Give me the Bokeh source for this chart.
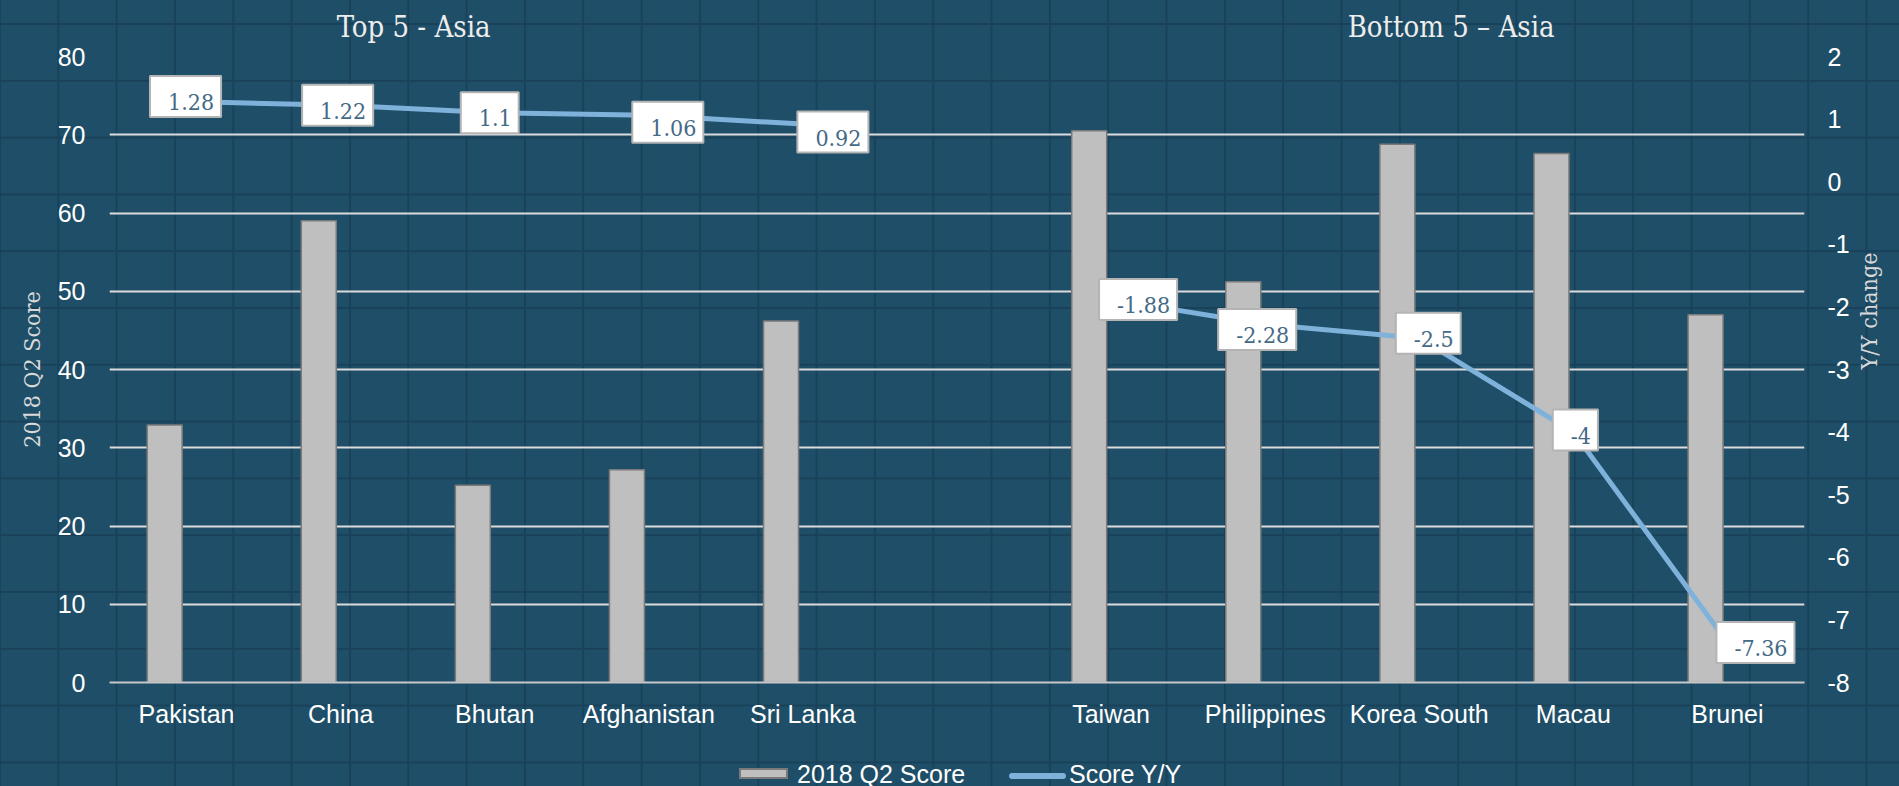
import math
from bokeh.plotting import figure
from bokeh.layouts import column
from bokeh.models import (FactorRange, Range1d, LinearAxis, SingleIntervalTicker,
                          ColumnDataSource, Div, PrintfTickFormatter)
from bokeh.transform import dodge
from bokeh.core.properties import value
from bokeh.embed import file_html
from bokeh.resources import INLINE

# ---------------- data ----------------
categories = ["Pakistan", "China", "Bhutan", "Afghanistan", "Sri Lanka", " ",
              "Taiwan", "Philippines", "Korea South", "Macau", "Brunei"]
top5 = ["Pakistan", "China", "Bhutan", "Afghanistan", "Sri Lanka"]
bottom5 = ["Taiwan", "Philippines", "Korea South", "Macau", "Brunei"]
top5_score = [32.9, 59.0, 25.2, 27.2, 46.2]
bottom5_score = [70.5, 51.2, 68.8, 67.6, 47.0]
top5_yy = [1.28, 1.22, 1.1, 1.06, 0.92]
bottom5_yy = [-1.88, -2.28, -2.5, -4, -7.36]
left_ticks_interval = 10
right_ticks_interval = 1
titles = ["Top 5 - Asia", "Bottom 5 \u2013 Asia"]
legend_labels = ["2018 Q2 Score", "Score Y/Y"]

# ---------------- layout / styles ----------------
W, H = 1899, 786
HEAD_H = 40                       # strip holding the two section titles
FOOT_H = 30                       # strip holding the legend
FRAME_L, FRAME_R, FRAME_T, FRAME_B = 109, 95, 56, 104
FRAME_W = W - FRAME_L - FRAME_R
FRAME_H = H - FRAME_T - FRAME_B
title_pos = [1.977, 8.71]          # in category-slot units along the x axis
label_dx = [-1, -3, -5, 19, 30, 27, -8, 9, 2, 28]   # data-label nudges (px)
label_dy = [-5, 0, 0, 7, 8, 0, 5, -5, -2, 0]

BG = "#1F4F68"
PAPER = "#19425A"
BAR_FILL = "#BFBFBF"
BAR_LINE = "#7A7A7A"
LINE_C = "#7FB2DA"
LABEL_TXT = "#456A86"
SANS = "Liberation Sans"
SERIF = "DejaVu Serif Condensed"

p = figure(frame_width=FRAME_W, frame_height=FRAME_H,
           x_range=FactorRange(*categories, range_padding=0, factor_padding=0),
           y_range=Range1d(0, 80),
           output_backend="svg", toolbar_location=None,
           min_border_left=FRAME_L, min_border_right=FRAME_R,
           min_border_top=FRAME_T - HEAD_H, min_border_bottom=FRAME_B - FOOT_H,
           margin=0)
p.extra_y_ranges = {"yy": Range1d(-8, 2)}
p.background_fill_alpha = 0
p.border_fill_alpha = 0
p.outline_line_color = None

# grid
p.xgrid.grid_line_color = None
p.ygrid.grid_line_color = "#DCDCDC"
p.ygrid.grid_line_width = 2
p.ygrid.ticker = SingleIntervalTicker(interval=left_ticks_interval, num_minor_ticks=0)

# left axis
la = p.yaxis[0]
la.ticker = SingleIntervalTicker(interval=left_ticks_interval, num_minor_ticks=0)
la.formatter = PrintfTickFormatter(format="%d")
la.axis_line_color = None
la.major_tick_line_color = None
la.minor_tick_line_color = None
la.major_tick_out = 0
la.major_label_standoff = 24
la.major_label_text_font = SANS
la.major_label_text_font_size = "25px"
la.major_label_text_color = "#FFFFFF"
la.axis_label = "2018 Q2 Score"
la.axis_label_text_font = SERIF
la.axis_label_text_font_style = "normal"
la.axis_label_text_font_size = "23px"
la.axis_label_text_color = "#D9D9D9"
la.axis_label_standoff = 10

# right axis
ra = LinearAxis(y_range_name="yy",
                ticker=SingleIntervalTicker(interval=right_ticks_interval, num_minor_ticks=0),
                formatter=PrintfTickFormatter(format="%d"))
ra.axis_line_color = None
ra.major_tick_line_color = None
ra.minor_tick_line_color = None
ra.major_tick_out = 0
ra.major_label_standoff = 23
ra.major_label_text_font = SANS
ra.major_label_text_font_size = "25px"
ra.major_label_text_color = "#FFFFFF"
ra.axis_label = "Y/Y change"
ra.axis_label_text_font = SERIF
ra.axis_label_text_font_style = "normal"
ra.axis_label_text_font_size = "23px"
ra.axis_label_text_color = "#D9D9D9"
ra.axis_label_standoff = 16
try:
    ra.axis_label_orientation = math.pi / 2
except Exception:
    pass
p.add_layout(ra, "right")

# bottom axis
xa = p.xaxis[0]
xa.axis_line_color = "#C8C8C8"
xa.axis_line_width = 2
xa.major_tick_line_color = None
xa.minor_tick_line_color = None
xa.major_tick_out = 0
xa.major_label_standoff = 17
xa.major_label_text_font = SANS
xa.major_label_text_font_size = "25px"
xa.major_label_text_line_height = 1.0
xa.major_label_text_color = "#FFFFFF"

# bars
bar_src = ColumnDataSource(dict(cat=top5 + bottom5, score=top5_score + bottom5_score))
bars = p.vbar(x=dodge("cat", -0.142, range=p.x_range), top="score", width=0.227,
              source=bar_src, fill_color=BAR_FILL, line_color=BAR_LINE, line_width=1.5)

# lines (broken between the two groups)
l1 = p.line(x=top5, y=top5_yy, y_range_name="yy", line_color=LINE_C, line_width=5)
l2 = p.line(x=bottom5, y=bottom5_yy, y_range_name="yy", line_color=LINE_C, line_width=5)

# data labels
yy_all = top5_yy + bottom5_yy
lab_src = ColumnDataSource(dict(cat=top5 + bottom5, v=yy_all,
                                txt=[f"{v:g}" for v in yy_all],
                                dx=label_dx, dy=label_dy))
p.text(x="cat", y="v", text="txt", y_range_name="yy", source=lab_src,
       x_offset="dx", y_offset="dy",
       text_align="center", text_baseline="middle",
       text_font=value(SERIF), text_font_size="23px", text_color=LABEL_TXT,
       background_fill_color="#FFFFFF",
       border_line_color="#B4B4B4", border_line_width=2,
       padding=(18, 7, 18, 7))

# section titles above the plot frame
slot = FRAME_W / len(categories)
spans = "".join(
    '<span style="position:absolute;left:%.1fpx;top:27px;transform:translate(-50%%,-50%%);'
    'white-space:nowrap;line-height:26px;font-family:\'%s\';font-size:29px;color:#EDEDED;">%s</span>'
    % (FRAME_L + xp * slot, SERIF, t)
    for t, xp in zip(titles, title_pos))
head = Div(text='<div style="position:relative;width:%dpx;height:%dpx;">%s</div>' % (W, HEAD_H, spans),
           width=W, height=HEAD_H, margin=0)
head.styles = {"overflow": "visible"}

# legend strip under the plot (swatch + label for each series)
txt_css = ("position:absolute;top:18px;transform:translateY(-50%%);white-space:nowrap;"
           "font-family:'%s';font-size:25px;line-height:25px;color:#FFFFFF;" % SANS)
foot_html = (
    '<div style="position:relative;width:%dpx;height:%dpx;">' % (W, FOOT_H) +
    '<div style="position:absolute;left:739px;top:12px;width:49px;height:11px;'
    'background:%s;border:2px solid %s;"></div>' % (BAR_FILL, BAR_LINE) +
    '<span style="%sleft:797px;">%s</span>' % (txt_css, legend_labels[0]) +
    '<div style="position:absolute;left:1009px;top:17px;width:57px;height:6px;'
    'border-radius:3px;background:%s;"></div>' % LINE_C +
    '<span style="%sleft:1069px;">%s</span>' % (txt_css, legend_labels[1]) +
    '</div>')
foot = Div(text=foot_html, width=W, height=FOOT_H, margin=0)
foot.styles = {"overflow": "visible"}

layout = column(head, p, foot, spacing=0, margin=0)
layout.styles = {
    "background-color": BG,
    "background-image": ("linear-gradient(to right, %s 2px, transparent 2px), "
                         "linear-gradient(to bottom, %s 2px, transparent 2px)") % (PAPER, PAPER),
    "background-size": "58.33px 100%, 100% 56.8px",
    "background-position": "57.3px 0, 0 23px",
}

open("out.html", "w").write(file_html(layout, INLINE))
